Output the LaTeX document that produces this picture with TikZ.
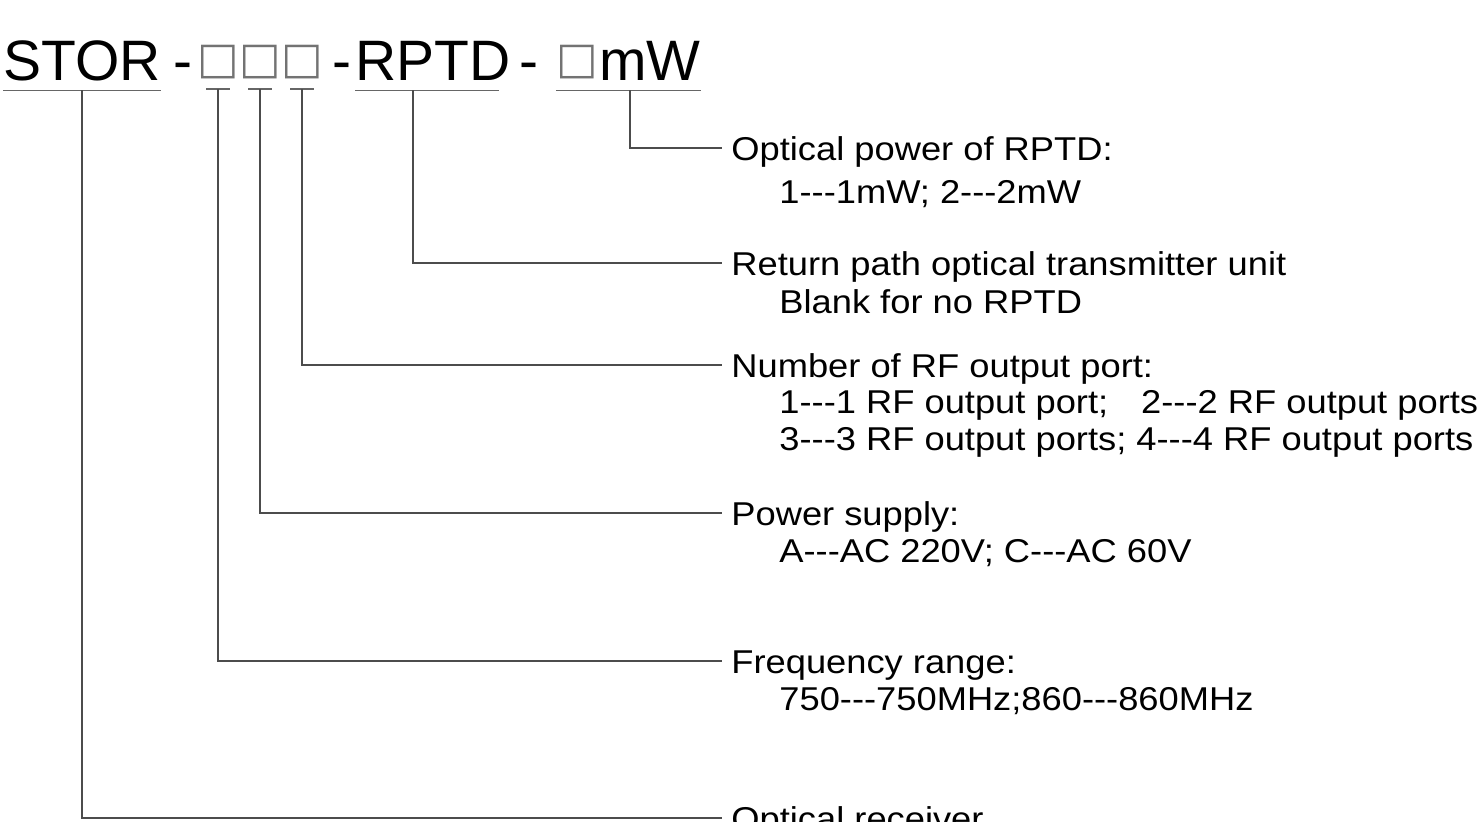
\documentclass[tikz,border=0pt]{standalone}
\usepackage{fontspec}
\usepackage{tikz}
\usetikzlibrary{positioning}
\newfontfamily\tfont{Liberation Sans}
\newfontfamily\lfont{Liberation Sans}[FakeStretch=1.1]
\newfontfamily\bfont{DejaVu Sans}
\definecolor{legline}{gray}{0.3}
\newcommand{\hyps}{\mbox{-}\mbox{-}\mbox{-}}
\tikzset{%
	code part/.style={
		font=\tfont\fontsize{28.5}{34}\selectfont,
		inner sep=0pt,
		text depth=5pt,
		anchor=base west
	},
	code field/.style={
		font=\bfont\fontsize{22}{26}\selectfont,
		text=black!55,
		inner sep=0pt,
		anchor=center
	},
	under line/.style={draw=black!60, line width=0.8pt},
	leg line/.style={draw=legline, line width=1pt},
	leg head/.style={
		font=\lfont\fontsize{16.5}{20}\selectfont,
		anchor=base west,
		inner xsep=4.5pt,
		inner ysep=0pt,
		text height=15pt,
		text depth=3pt
	},
	leg sub/.style={
		font=\lfont\fontsize{16.5}{20}\selectfont,
		anchor=base west,
		inner sep=0pt
	},
}
\begin{document}
\begin{tikzpicture}[x=0.5pt, y=-0.5pt]
	\useasboundingbox (0,0) rectangle (1484,821);
	\clip (0,0) rectangle (1484,821);
	% type code
	\node[code part] (stor) at (3,80) {STOR};
	\node[code part] (hy1) at (173,80) {-};
	\node[code field] (f1) at (218,62) {□};
	\node[code field] (f2) at (260,62) {□};
	\node[code field] (f3) at (302,62) {□};
	\node[code part] (hy2) at (332,80) {-};
	\node[code part] (rptd) at (355,80) {RPTD};
	\node[code part] (hy3) at (519,80) {-};
	\node[code field] (f4) at (577,62) {□};
	\node[code part] (mw) at (599,80) {mW};
	
	\draw[under line] (stor.south west) -- (stor.south east);
	\foreach \f in {f1,f2,f3}
		\draw[under line] ([shift={(-6pt,-5pt)}]\f.south) -- ([shift={(6pt,-5pt)}]\f.south);
	\draw[under line] (rptd.south west) -- ([xshift=-6pt]rptd.south east);
	\draw[under line] (f4.west |- mw.south) -- (mw.south east);
	
	% legend
	\node[leg head] (opw) at (722,160) {Optical power of RPTD:};
	\node[leg sub] (opw-1) at ([shift={(28.5pt,-21.5pt)}]opw.base west) {1\hyps1mW; 2\hyps2mW};
	
	\node[leg head] (rpt) at (722,275) {Return path optical transmitter unit};
	\node[leg sub] (rpt-1) at ([shift={(28.5pt,-19pt)}]rpt.base west) {Blank for no RPTD};
	
	\node[leg head] (nrf) at (722,377) {Number of RF output port:};
	\node[leg sub] (nrf-1) at ([shift={(28.5pt,-18pt)}]nrf.base west) {1\hyps1 RF output port;\quad 2\hyps2 RF output ports};
	\node[leg sub] (nrf-2) at ([yshift=-18.5pt]nrf-1.base west) {3\hyps3 RF output ports; 4\hyps4 RF output ports};
	
	\node[leg head] (pws) at (722,525) {Power supply:};
	\node[leg sub] (pws-1) at ([shift={(28.5pt,-18.5pt)}]pws.base west) {A\hyps AC 220V; C\hyps AC 60V};
	
	\node[leg head] (frq) at (722,673) {Frequency range:};
	\node[leg sub] (frq-1) at ([shift={(28.5pt,-18.5pt)}]frq.base west) {750\hyps750MHz;860\hyps860MHz};
	
	\node[leg head] (rcv) at (722,830) {Optical receiver};
	
	% connectors
	\draw[leg line] ([xshift=-10pt]mw.south) |- (opw.west);
	\draw[leg line] ([xshift=-10pt]rptd.south) |- (rpt.west);
	\draw[leg line] ([yshift=-5pt]f3.south) |- (nrf.west);
	\draw[leg line] ([yshift=-5pt]f2.south) |- (pws.west);
	\draw[leg line] ([yshift=-5pt]f1.south) |- (frq.west);
	\draw[leg line] (stor.south) |- (rcv.west);
\end{tikzpicture}
\end{document}
